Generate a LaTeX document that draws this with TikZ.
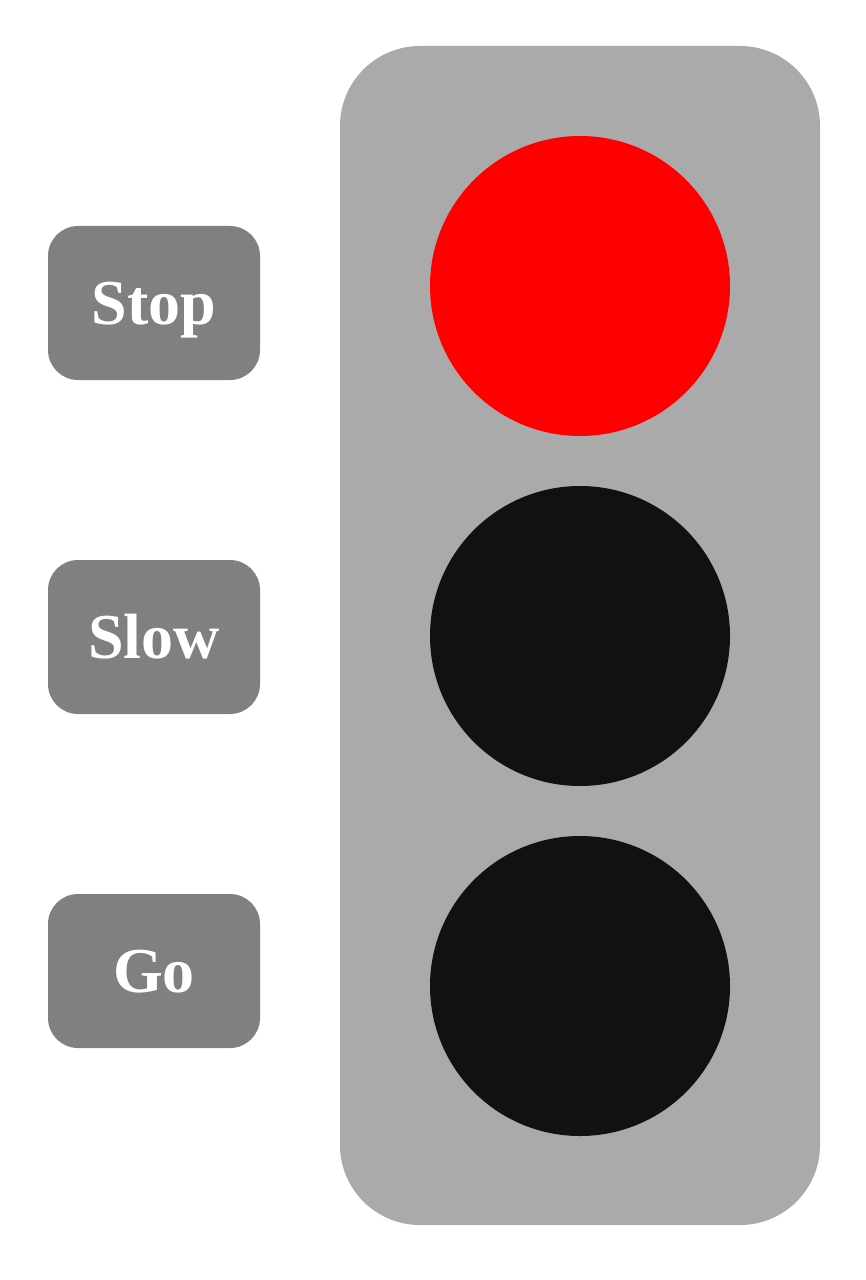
\documentclass[tikz,border=0pt]{standalone}
\usepackage{fontspec}
\setmainfont{Liberation Serif}

\definecolor{housinggray}{HTML}{AAAAAA}
\definecolor{buttongray}{HTML}{808080}
\definecolor{lampoff}{HTML}{111111}

\begin{document}
\begin{tikzpicture}[x=0.75pt,y=-0.75pt]

\useasboundingbox (0,0) rectangle (866,1280);

\tikzstyle{every node}=[shape=rectangle,inner sep=0pt,anchor=center];
\tikzstyle{lamp}=[shape=circle,minimum size=225pt];
\tikzstyle{button}=[fill=buttongray,rounded corners=22.5pt,minimum width=159pt,minimum height=115.5pt,
  text=white,font=\fontsize{48}{48}\selectfont\bfseries,text height=31.5pt,text depth=0pt];

% Draw the signal housing
\node (housing) at (580,635.5) [fill=housinggray,rounded corners=60pt,minimum width=360pt,minimum height=884.25pt] {};

% Draw the lamps
\node[lamp,fill=red] (red) at (580,286) {};
\node[lamp,fill=lampoff] (amber) at (580,636) {};
\node[lamp,fill=lampoff] (green) at (580,986) {};

% Draw the buttons
\node[button] (stop) at (154,303) {Stop};
\node[button] (slow) at (154,637) {Slow};
\node[button] (go) at (154,971) {Go};

\end{tikzpicture}
\end{document}
